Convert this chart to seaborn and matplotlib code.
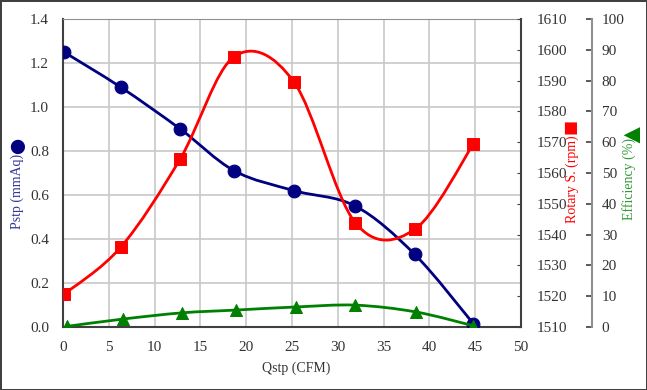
import numpy as np
import seaborn as sns
import matplotlib.pyplot as plt
from matplotlib.path import Path
from matplotlib.patches import PathPatch

# Data
q = [0.1, 6.3, 12.8, 18.7, 25.2, 31.9, 38.4, 44.8]
q_eff = [0.4, 6.6, 13.0, 18.9, 25.4, 31.9, 38.5, 44.8]
pstp = [1.25, 1.09, 0.90, 0.71, 0.62, 0.55, 0.33, 0.015]
rpm = [1520.6, 1535.9, 1564.6, 1597.8, 1589.6, 1543.9, 1541.7, 1569.4]
eff = [0.2, 2.6, 4.6, 5.5, 6.5, 7.1, 4.9, 0.4]

x_ticks = list(range(0, 51, 5))
p_ticks = [0.0, 0.2, 0.4, 0.6, 0.8, 1.0, 1.2, 1.4]
rpm_ticks = list(range(1510, 1611, 10))
eff_ticks = list(range(0, 101, 10))

NAVY = "#000080"
RED = "#ff0000"
GREEN = "#008000"
SERIF = ["Liberation Serif", "DejaVu Serif"]

sns.set_style("white")
plt.rcParams["font.family"] = SERIF


def smooth_line(ax, xs, ys, color):
    # Excel-like smoothed line: cubic bezier through the points
    pts = np.column_stack([xs, ys]).astype(float)
    n = len(pts)
    verts = [pts[0]]
    codes = [Path.MOVETO]
    for i in range(n - 1):
        p_prev = pts[max(i - 1, 0)]
        p_next = pts[min(i + 2, n - 1)]
        c1 = pts[i] + (pts[i + 1] - p_prev) / 6
        c2 = pts[i + 1] - (p_next - pts[i]) / 6
        verts += [c1, c2, pts[i + 1]]
        codes += [Path.CURVE4] * 3
    patch = PathPatch(Path(verts, codes), facecolor="none", edgecolor=color,
                      lw=2.0, zorder=2)
    ax.add_patch(patch)


fig = plt.figure(figsize=(6.47, 3.90), dpi=100)
fig.patch.set_edgecolor("#404040")
fig.patch.set_linewidth(2)
ax = fig.add_axes([63 / 647, 63 / 390, 458 / 647, 308 / 390])
ax2 = ax.twinx()
ax3 = ax.twinx()
for a in (ax2, ax3):
    a.patch.set_visible(False)

# Pstp
smooth_line(ax, q, pstp, NAVY)
sns.scatterplot(x=q, y=pstp, ax=ax, color=NAVY, marker="o", s=85,
                edgecolor=NAVY, zorder=3, legend=False)
# Rotary speed
smooth_line(ax2, q, rpm, RED)
sns.scatterplot(x=q, y=rpm, ax=ax2, color=RED, marker="s", s=75,
                edgecolor=RED, zorder=3, legend=False)
# Efficiency
smooth_line(ax3, q_eff, eff, GREEN)
sns.scatterplot(x=q_eff, y=eff, ax=ax3, color=GREEN, marker="^", s=75,
                edgecolor=GREEN, zorder=3, legend=False)

ax.set_xlim(0, 50)
ax.set_ylim(0, 1.4)
ax2.set_ylim(1510, 1610)
ax3.set_ylim(0, 100)

ax.set_xticks(x_ticks)
ax.set_yticks(p_ticks)
ax.set_yticklabels([f"{v:.1f}" for v in p_ticks])
ax2.set_yticks(rpm_ticks)
ax3.set_yticks(eff_ticks)

ax.grid(True, color="#c8c8c8", lw=1.2)
ax.set_axisbelow(True)

tick_kw = dict(labelsize=11, colors="#404040", labelcolor="#333333")
ax.tick_params(axis="both", direction="in", length=0, pad=10, **tick_kw)
ax2.tick_params(axis="y", direction="in", length=3, pad=11, **tick_kw)
ax3.tick_params(axis="y", direction="in", length=4, width=1.2, pad=7, **tick_kw)

for s in ("left", "bottom"):
    ax.spines[s].set_color("#404040")
    ax.spines[s].set_linewidth(1.5)
ax.spines["top"].set_color("#909090")
ax.spines["right"].set_visible(False)
ax2.spines["right"].set_color("#404040")
ax2.spines["right"].set_linewidth(1.5)
for s in ("left", "top", "bottom"):
    ax2.spines[s].set_visible(False)
    ax3.spines[s].set_visible(False)
ax3.spines["right"].set_position(("axes", (592 - 63) / 458))
ax3.spines["right"].set_color("#909090")
ax3.spines["right"].set_linewidth(1.5)

# Axis titles with symbol glyphs
fig.text(296 / 647, 1 - 368 / 390, "Qstp (CFM)", ha="center", va="center",
         fontsize=10, color="#333333")
fig.text(17 / 647, 1 - 191 / 390, "Pstp (mmAq)", rotation=90, ha="center",
         va="center", fontsize=10, color="#333399")
fig.text(17 / 647, 1 - 144 / 390, "●", rotation=90, ha="center",
         va="center", fontsize=24, color=NAVY)
fig.text(572 / 647, 1 - 179 / 390, "Rotary S. (rpm)", rotation=90,
         ha="center", va="center", fontsize=10, color=RED)
fig.text(571 / 647, 1 - 126 / 390, "■", rotation=90, ha="center",
         va="center", fontsize=18, color=RED)
fig.text(629 / 647, 1 - 179 / 390, "Efficiency (%)", rotation=90,
         ha="center", va="center", fontsize=10, color="#339933")
fig.text(629 / 647, 1 - 129 / 390, "▲", rotation=90, ha="center",
         va="center", fontsize=20, color=GREEN)

fig.savefig("out.png", dpi=100)
